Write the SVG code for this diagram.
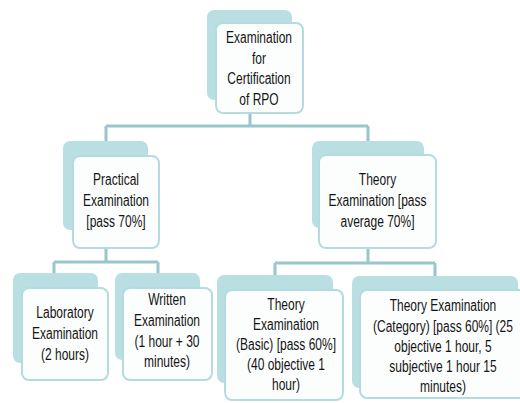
<svg xmlns="http://www.w3.org/2000/svg" width="520" height="403" viewBox="0 0 520 403">
<defs>
<style>
.back{fill:#b9dfe3;stroke:none}
.front{fill:#fcfefe;stroke:#b4dce0;stroke-width:2}
.lbl{font-family:"Liberation Sans",Arial,sans-serif;font-size:16px;fill:#141414;text-anchor:middle}
.conn{fill:none;stroke:#98c6ca;stroke-width:3}
</style>
</defs>
<rect width="520" height="403" fill="#ffffff"/>
<g id="connectors">
<path class="conn" d="M250,113 V126 M106,126 H368 M106,126 V141 M368,126 V141"/>
<path class="conn" d="M106,248 V262 M54,262 H158 M54,262 V273 M158,262 V273"/>
<path class="conn" d="M368,248 V263 M275,263 H435 M275,263 V275 M435,263 V276"/>
</g>
<g id="root">
<rect class="back" x="207" y="10" width="85" height="90" rx="7"/>
<rect class="front" x="216" y="23" width="87" height="90" rx="7"/>
<g class="lbl" transform="translate(259,0) scale(0.75,1)">
<text x="0" y="43">Examination</text>
<text x="0" y="64">for</text>
<text x="0" y="84.5">Certification</text>
<text x="0" y="105.5">of RPO</text>
</g>
</g>
<g id="practical">
<rect class="back" x="63" y="141" width="85" height="89" rx="7"/>
<rect class="front" x="73" y="156" width="86" height="92" rx="7"/>
<g class="lbl" transform="translate(116,0) scale(0.75,1)">
<text x="0" y="185">Practical</text>
<text x="0" y="206">Examination</text>
<text x="0" y="227">[pass 70%]</text>
</g>
</g>
<g id="theory">
<rect class="back" x="312" y="141" width="112" height="87" rx="7"/>
<rect class="front" x="319" y="155" width="117" height="93" rx="7"/>
<g class="lbl" transform="translate(377.5,0) scale(0.75,1)">
<text x="0" y="185">Theory</text>
<text x="0" y="206">Examination [pass</text>
<text x="0" y="227">average 70%]</text>
</g>
</g>
<g id="laboratory">
<rect class="back" x="13" y="273" width="85" height="90" rx="7"/>
<rect class="front" x="22" y="288" width="86" height="92" rx="7"/>
<g class="lbl" transform="translate(65,0) scale(0.75,1)">
<text x="0" y="318">Laboratory</text>
<text x="0" y="339">Examination</text>
<text x="0" y="360">(2 hours)</text>
</g>
</g>
<g id="written">
<rect class="back" x="115" y="273" width="85" height="87" rx="7"/>
<rect class="front" x="123" y="288" width="89" height="92" rx="7"/>
<g class="lbl" transform="translate(167,0) scale(0.75,1)">
<text x="0" y="305">Written</text>
<text x="0" y="326">Examination</text>
<text x="0" y="347">(1 hour + 30</text>
<text x="0" y="367">minutes)</text>
</g>
</g>
<g id="theory-basic">
<rect class="back" x="217" y="275" width="116" height="108" rx="7"/>
<rect class="front" x="225" y="290" width="118" height="110" rx="7"/>
<g class="lbl" transform="translate(286,0) scale(0.75,1)">
<text x="0" y="310">Theory</text>
<text x="0" y="330">Examination</text>
<text x="0" y="350">(Basic) [pass 60%]</text>
<text x="0" y="370">(40 objective 1</text>
<text x="0" y="390">hour)</text>
</g>
</g>
<g id="theory-category">
<rect class="back" x="352" y="276" width="166" height="112" rx="7"/>
<rect class="front" x="360" y="290" width="170" height="108" rx="7"/>
<g class="lbl" transform="translate(443,0) scale(0.75,1)">
<text x="0" y="311">Theory Examination</text>
<text x="0" y="332">(Category) [pass 60%] (25</text>
<text x="0" y="352">objective 1 hour, 5</text>
<text x="0" y="372">subjective 1 hour 15</text>
<text x="0" y="392">minutes)</text>
</g>
</g>
</svg>
